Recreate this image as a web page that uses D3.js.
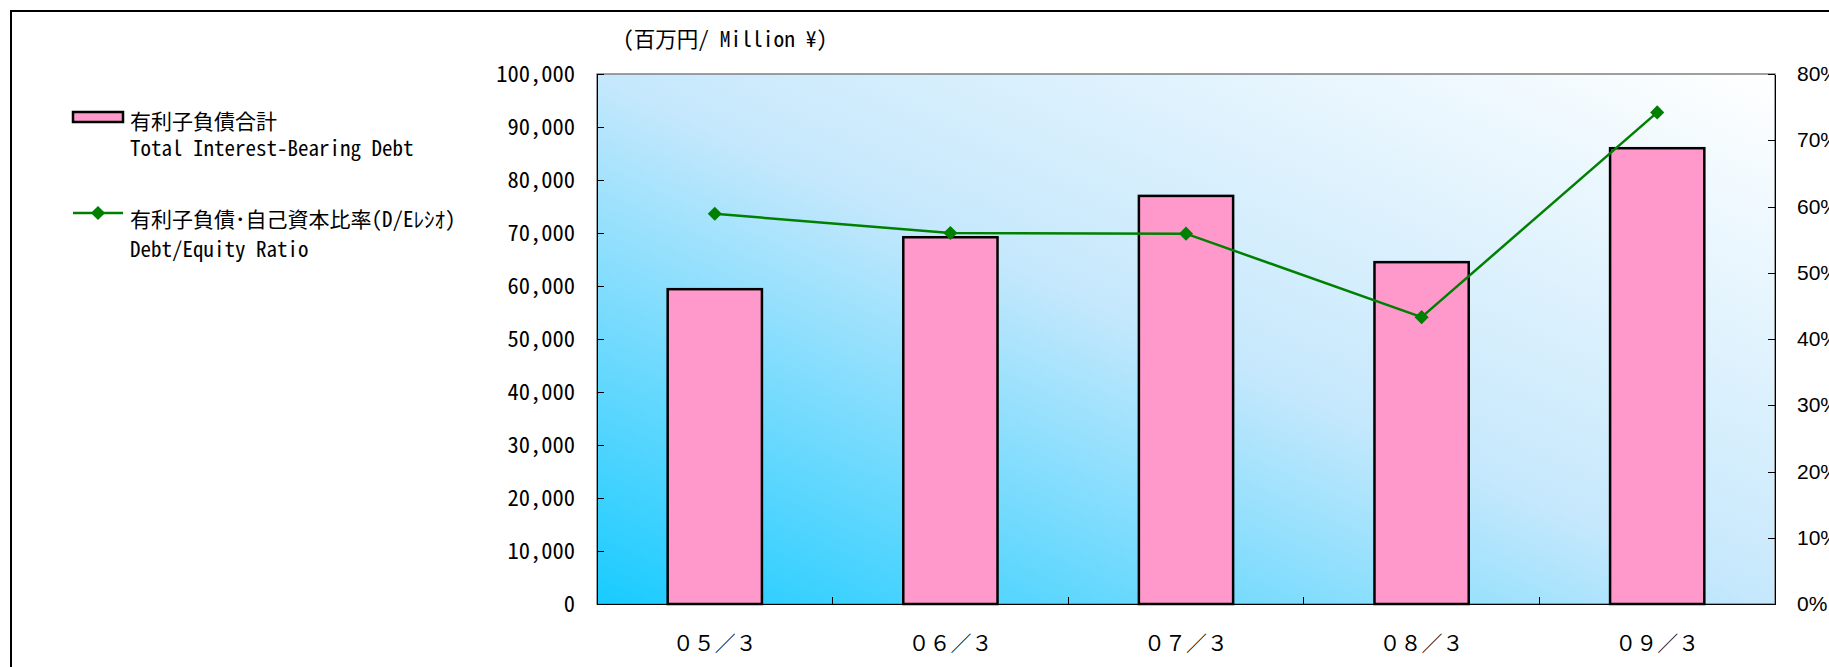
<!DOCTYPE html>
<meta charset="utf-8">
<head lang="ja">
    <title></title>
    <script src="https://cdn.jsdelivr.net/npm/d3@7"></script>
    <style type="text/css">
        body { margin: 0; background: #fff; }
        text { fill: #000; }
        .jp { font-family: "Noto Sans CJK JP", sans-serif; font-size: 21px; }
        /* half-width latin, closer to the MS Gothic look of the original */
        .hw { font-feature-settings: "hwid" 1; }
        .axis path, .axis line { stroke: #000; shape-rendering: crispEdges; }
        .bar { fill: #ff99cc; stroke: #000; stroke-width: 2.5; }
        .ratio-line { fill: none; stroke: #008000; stroke-width: 2.5; }
        .dot { fill: #008000; }
    </style>
</head>
<body>
<script type="text/javascript">

    // data
    var periods = ["０５／３", "０６／３", "０７／３", "０８／３", "０９／３"];
    var debt = [59400, 69200, 77000, 64500, 86000];          // 百万円
    var deRatio = [58.9, 56.0, 55.9, 43.3, 74.2];            // %
    var leftTicks = [0, 10000, 20000, 30000, 40000, 50000, 60000, 70000, 80000, 90000, 100000];
    var rightTicks = [0, 10, 20, 30, 40, 50, 60, 70, 80];

    var width = 1829;
    var height = 667;
    var plot = {left: 597, right: 1775, top: 74, bottom: 604};

    var svg = d3.select("body")
        .append("svg")
        .attr("width", width)
        .attr("height", height);

    // outer frame, runs off the right/bottom edge
    svg.append("rect")
        .attr("x", 11)
        .attr("y", 11)
        .attr("width", width)
        .attr("height", height)
        .attr("fill", "#fff")
        .attr("stroke", "#000")
        .attr("stroke-width", 2);

    // plot background gradient (cyan bottom-left -> white top-right)
    var grad = svg.append("defs").append("linearGradient")
        .attr("id", "bg")
        .attr("x1", 0).attr("y1", 1)
        .attr("x2", 1).attr("y2", 0);
    grad.append("stop").attr("offset", 0).attr("stop-color", "#18cbff");
    grad.append("stop").attr("offset", 0.5).attr("stop-color", "#c6e8fc");
    grad.append("stop").attr("offset", 1).attr("stop-color", "#ffffff");

    svg.append("rect")
        .attr("x", plot.left)
        .attr("y", plot.top)
        .attr("width", plot.right - plot.left)
        .attr("height", plot.bottom - plot.top)
        .attr("fill", "url(#bg)")
        .attr("stroke", "#808080")
        .attr("stroke-width", 1.5);

    //scales
    var x = d3.scaleBand()
        .domain(periods)
        .range([plot.left, plot.right])
        .paddingInner(0.6)
        .paddingOuter(0.3);
    var y = d3.scaleLinear()
        .domain([0, 100000])
        .range([plot.bottom, plot.top]);
    var y2 = d3.scaleLinear()
        .domain([0, 80])
        .range([plot.bottom, plot.top]);

    //bars
    svg.selectAll(".bar")
        .data(debt)
        .enter()
        .append("rect")
        .attr("class", "bar")
        .attr("x", function (d, i) { return x(periods[i]); })
        .attr("y", function (d) { return y(d); })
        .attr("width", x.bandwidth())
        .attr("height", function (d) { return y(0) - y(d); });

    //left axis
    var yAxis = d3.axisLeft(y)
        .tickValues(leftTicks)
        .tickFormat(d3.format(","))
        .tickSizeInner(-7)
        .tickSizeOuter(0)
        .tickPadding(22);
    svg.append("g")
        .attr("class", "axis")
        .attr("transform", "translate(" + plot.left + ",0)")
        .call(yAxis)
        .selectAll("text")
        .attr("class", "jp hw")
        .style("font-size", "22.5px");

    //right axis
    var yAxis2 = d3.axisRight(y2)
        .tickValues(rightTicks)
        .tickFormat(function (d) { return d + "%"; })
        .tickSizeInner(-7)
        .tickSizeOuter(0)
        .tickPadding(22);
    svg.append("g")
        .attr("class", "axis")
        .attr("transform", "translate(" + plot.right + ",0)")
        .call(yAxis2)
        .selectAll("text")
        .style("font-family", "'Liberation Sans', Arial, sans-serif")
        .style("font-size", "21px");

    //bottom axis: labels from the band scale, ticks between the bands
    var xAxis = d3.axisBottom(x)
        .tickSize(0)
        .tickPadding(32);
    var gx = svg.append("g")
        .attr("class", "axis")
        .attr("transform", "translate(0," + plot.bottom + ")")
        .call(xAxis);
    gx.selectAll("text")
        .attr("class", "jp");
    gx.selectAll(".sep")
        .data(periods.slice(1))
        .enter()
        .append("line")
        .attr("class", "sep")
        .attr("x1", function (d) { return x(d) - x.step() * x.paddingInner() / 2; })
        .attr("x2", function (d) { return x(d) - x.step() * x.paddingInner() / 2; })
        .attr("y1", 0)
        .attr("y2", -7)
        .attr("stroke", "#000");

    //ratio line + diamond markers
    var line = d3.line()
        .x(function (d, i) { return x(periods[i]) + x.bandwidth() / 2; })
        .y(function (d) { return y2(d); });
    svg.append("path")
        .datum(deRatio)
        .attr("class", "ratio-line")
        .attr("d", line);
    var diamond = d3.symbol().type(d3.symbolSquare).size(100);
    svg.selectAll(".dot")
        .data(deRatio)
        .enter()
        .append("path")
        .attr("class", "dot")
        .attr("d", diamond)
        .attr("transform", function (d, i) {
            return "translate(" + (x(periods[i]) + x.bandwidth() / 2) + "," + y2(d) + ") rotate(45)";
        });

    //unit label
    svg.append("text")
        .attr("class", "jp hw")
        .attr("x", 623)
        .attr("y", 37)
        .attr("dominant-baseline", "central")
        .style("font-size", "21.5px")
        .text("（百万円/ Million ¥)");

    //legend
    var legend = svg.append("g").attr("class", "jp hw");
    legend.append("rect")
        .attr("x", 73)
        .attr("y", 112)
        .attr("width", 50)
        .attr("height", 10)
        .attr("class", "bar");
    legend.append("text")
        .attr("x", 130).attr("y", 120)
        .attr("dominant-baseline", "central")
        .text("有利子負債合計");
    legend.append("text")
        .attr("x", 130).attr("y", 147)
        .attr("dominant-baseline", "central")
        .text("Total Interest-Bearing Debt");

    legend.append("line")
        .attr("x1", 73).attr("x2", 123)
        .attr("y1", 213).attr("y2", 213)
        .attr("class", "ratio-line");
    legend.append("path")
        .attr("class", "dot")
        .attr("d", diamond)
        .attr("transform", "translate(98,213) rotate(45)");
    legend.append("text")
        .attr("x", 130).attr("y", 218)
        .attr("dominant-baseline", "central")
        .text("有利子負債･自己資本比率(D/Eﾚｼｵ)");
    legend.append("text")
        .attr("x", 130).attr("y", 248)
        .attr("dominant-baseline", "central")
        .text("Debt/Equity Ratio");

</script>
</body>
